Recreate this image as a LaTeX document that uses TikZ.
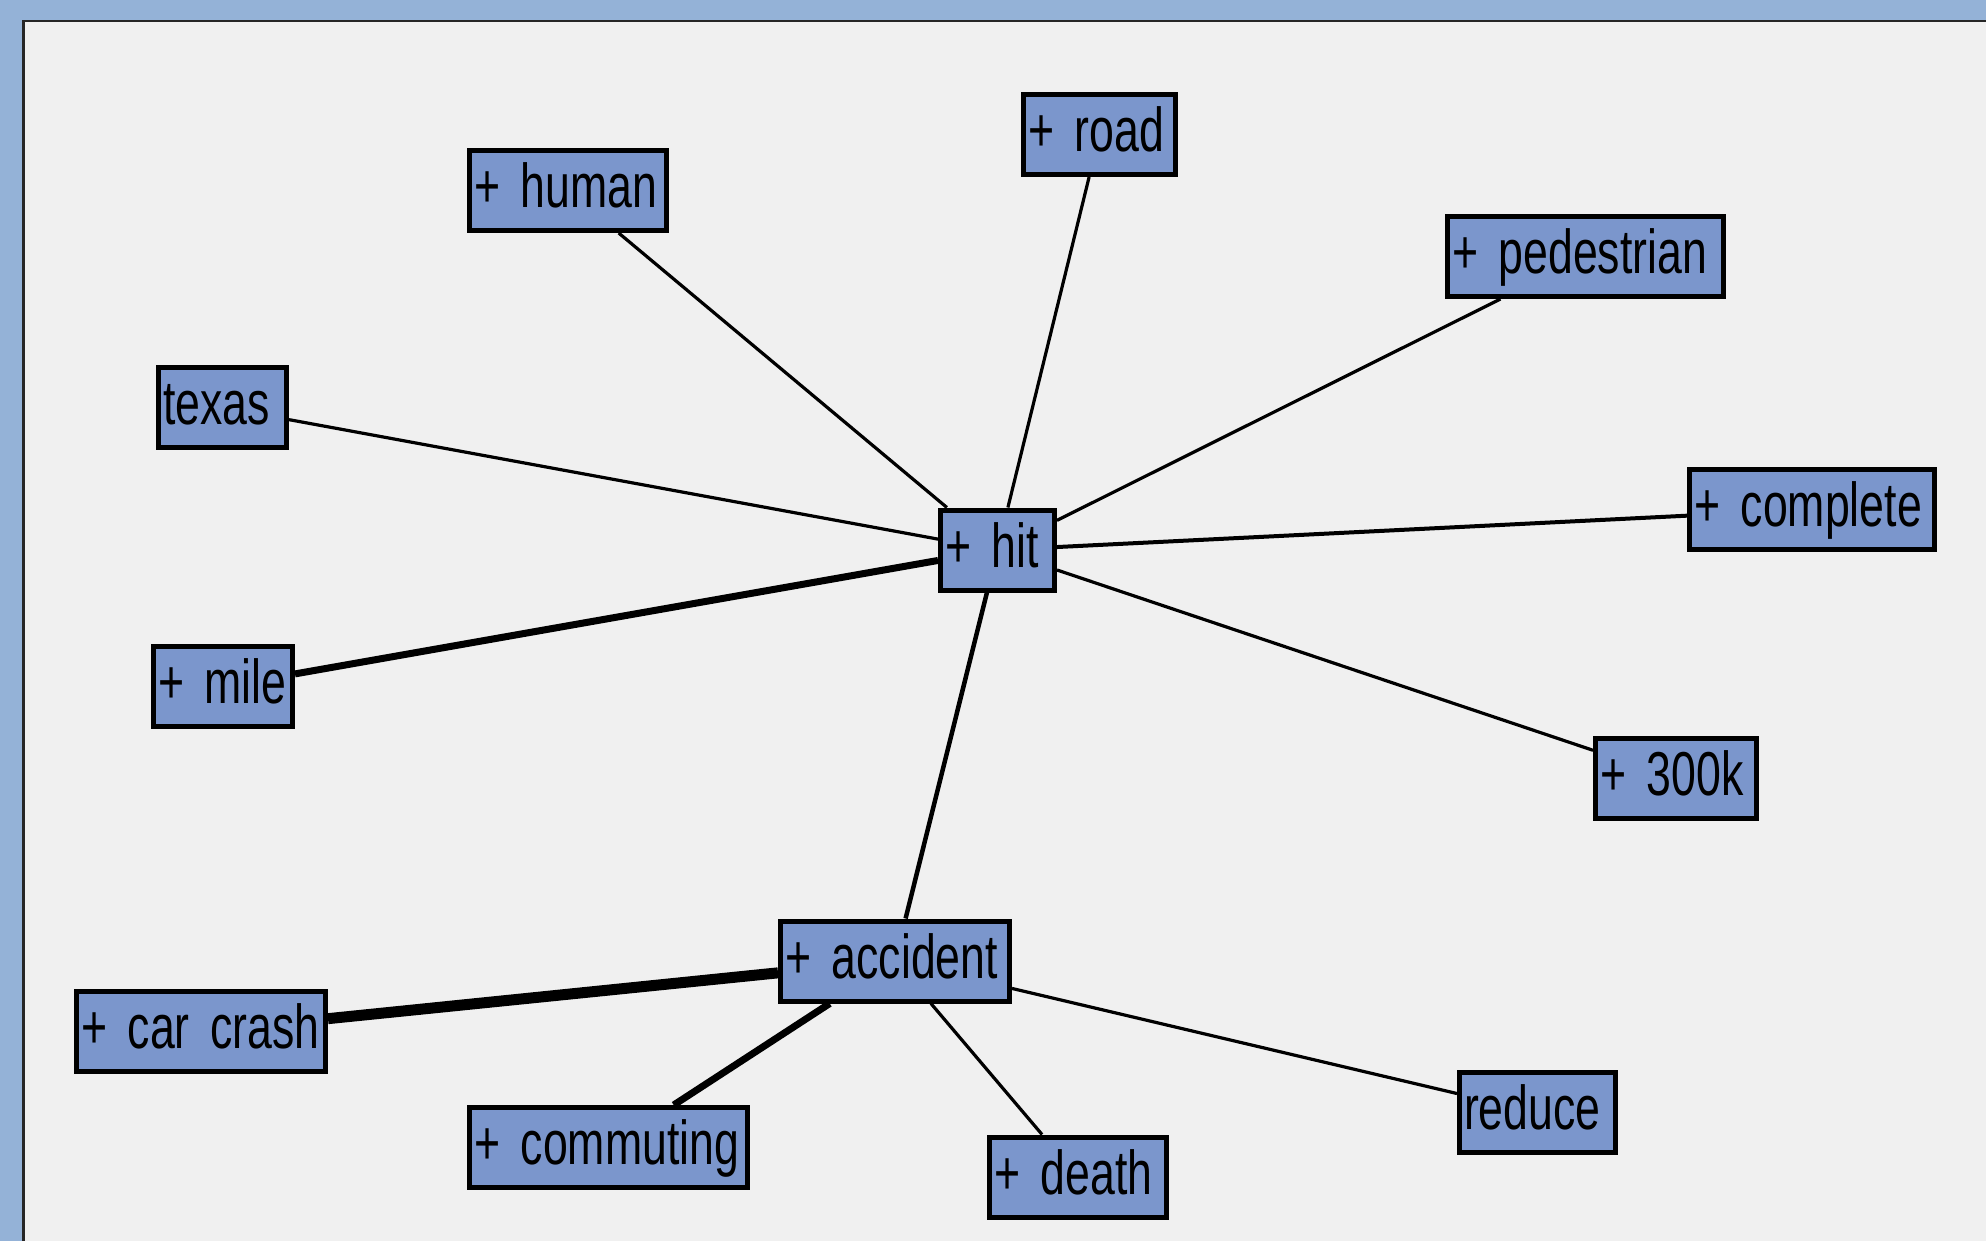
\documentclass[tikz,border=0pt]{standalone}
\usepackage{fontspec}
\setmainfont{Liberation Sans}[FakeStretch=0.72, WordSpace=0.8]
\usetikzlibrary{backgrounds}
\pgfdeclarelayer{edges}
\pgfsetlayers{background,edges,main}
\definecolor{frameblue}{HTML}{94B2D7}
\definecolor{panelgray}{HTML}{F0F0F0}
\definecolor{nodeblue}{HTML}{7B96CC}
\newcommand{\termtext}[1]{\mbox{#1}}
\tikzset{
  term/.style={draw=black, line width=5pt, fill=nodeblue, rectangle,
    inner xsep=4.5pt, inner ysep=0pt, minimum height=80pt,
    text width=#1-14pt, align=left, text height=46pt, text depth=12pt,
    font=\fontsize{62}{70}\selectfont},
  link/.style={draw=black, line width=#1},
  link/.default=3.2pt
}
\begin{document}
\begin{tikzpicture}[x=1pt,y=-1pt]
\useasboundingbox (0,0) rectangle (1986,1241);
\begin{pgfonlayer}{background}
\fill[frameblue] (0,0) rectangle (1986,1241);
\fill[panelgray] (22,20) rectangle (1990,1245);
\draw[line width=2.5pt, black!85] (23.25,1245) -- (23.25,21.25) -- (1990,21.25);
\end{pgfonlayer}

\node[term=157pt] (road) at (1099.5,134.5) {\termtext{+ road}};
\node[term=202pt] (human) at (568,190.5) {\termtext{+ human}};
\node[term=281pt] (pedestrian) at (1585.5,256.5) {\termtext{+ pedestrian}};
\node[term=133pt] (texas) at (222.5,407.5) {\termtext{texas}};
\node[term=250pt] (complete) at (1812,509.5) {\termtext{+ complete}};
\node[term=119pt] (hit) at (997.5,550) {\termtext{+ hit}};
\node[term=144pt] (mile) at (223,686.5) {\termtext{+ mile}};
\node[term=166pt] (k300) at (1676,778) {\termtext{+ 300k}};
\node[term=234pt] (accident) at (895,961) {\termtext{+ accident}};
\node[term=254pt] (carcrash) at (201,1031.5) {\termtext{+ car crash}};
\node[term=283pt] (commuting) at (608.5,1147.5) {\termtext{+ commuting}};
\node[term=182pt] (death) at (1078,1177) {\termtext{+ death}};
\node[term=161pt] (reduce) at (1537.5,1112.5) {\termtext{reduce}};

\begin{pgfonlayer}{edges}
\draw[link] (hit) -- (road);
\draw[link] (hit) -- (human);
\draw[link] (hit) -- (pedestrian);
\draw[link] (hit) -- (texas);
\draw[link=4pt] (hit) -- (complete);
\draw[link=7pt] (hit) -- (mile);
\draw[link] (hit) -- (k300);
\draw[link=4.5pt] (hit) -- (accident);
\draw[link=11pt] (accident) -- (carcrash);
\draw[link=7pt] (accident) -- (commuting);
\draw[link] (accident) -- (death);
\draw[link] (accident) -- (reduce);
\end{pgfonlayer}
\end{tikzpicture}
\end{document}
